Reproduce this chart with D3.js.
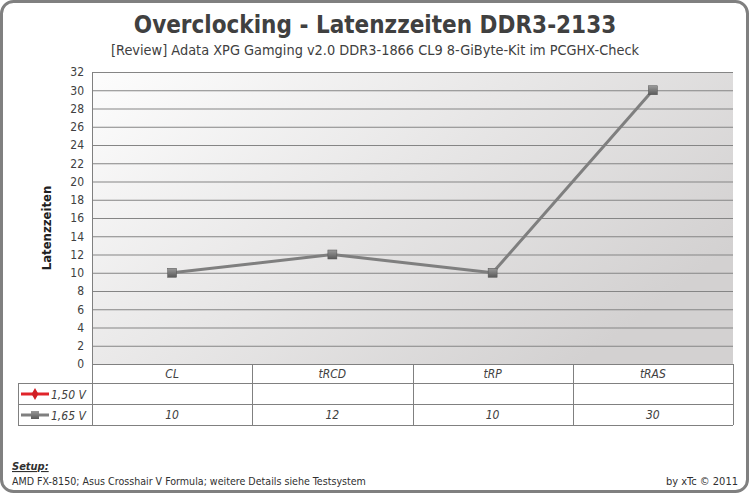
<!DOCTYPE html>
<html><head><meta charset="utf-8">
<script src="https://cdn.jsdelivr.net/npm/d3@7"></script>
<style>body{margin:0;background:#fff}svg{display:block}</style>
</head><body>
<svg id="chart" width="749" height="493"></svg>
<script>
var categories = ["CL", "tRCD", "tRP", "tRAS"];
var seriesNames = ["1,50 V", "1,65 V"];
var seriesColors = ["#e0242a", "#7f7f7f"];
var series150 = [null, null, null, null];
var series165 = [10, 12, 10, 30];
var yTicks = [0,2,4,6,8,10,12,14,16,18,20,22,24,26,28,30,32];

var svg = d3.select("#chart");
var font = "'DejaVu Sans Condensed', 'DejaVu Sans', sans-serif";
var plotL = 92, plotR = 733, plotT = 72, plotB = 364;
var rowH = [19, 21, 21];

var defs = svg.append("defs");
var bg = defs.append("linearGradient").attr("id", "bg")
	.attr("x1", 0).attr("y1", 0).attr("x2", 1).attr("y2", 0.6);
bg.append("stop").attr("offset", "0%").attr("stop-color", "#fdfdfd");
bg.append("stop").attr("offset", "100%").attr("stop-color", "#d3d1d1");
var mk = defs.append("linearGradient").attr("id", "mk").attr("x1", 0).attr("y1", 0).attr("x2", 0).attr("y2", 1);
mk.append("stop").attr("offset", "0%").attr("stop-color", "#9a9a9a");
mk.append("stop").attr("offset", "100%").attr("stop-color", "#5a5a5a");

// outer frame
svg.append("rect").attr("x", 1.5).attr("y", 1.5).attr("width", 746).attr("height", 490)
	.attr("rx", 12).attr("fill", "#fff").attr("stroke", "#808080").attr("stroke-width", 3);

// titles
svg.append("text").attr("x", 375).attr("y", 33).attr("text-anchor", "middle")
	.attr("font-family", font).attr("font-weight", "bold").attr("font-size", 24).attr("fill", "#404040")
	.text("Overclocking - Latenzzeiten DDR3-2133");
svg.append("text").attr("x", 375).attr("y", 55).attr("text-anchor", "middle")
	.attr("font-family", font).attr("font-size", 14.4).attr("fill", "#404040")
	.text("[Review] Adata XPG Gamging v2.0 DDR3-1866 CL9 8-GiByte-Kit im PCGHX-Check");

var x = d3.scaleBand().domain(categories).range([plotL, plotR]);
var y = d3.scaleLinear().domain([0, 32]).range([plotB, plotT]);

// plot background
svg.append("rect").attr("x", plotL).attr("y", plotT).attr("width", plotR - plotL).attr("height", plotB - plotT)
	.attr("fill", "url(#bg)");

// grid
svg.append("g").selectAll("line").data(yTicks).enter().append("line")
	.attr("x1", plotL).attr("x2", plotR).attr("y1", d => y(d) + 0.5).attr("y2", d => y(d) + 0.5)
	.attr("stroke", "#858585").attr("stroke-width", 1);

// y axis
var yAxis = d3.axisLeft(y).tickValues(yTicks).tickSize(0).tickPadding(8);
var gy = svg.append("g").attr("transform", "translate(" + plotL + ",0)").call(yAxis);
gy.select(".domain").remove();
gy.selectAll("text").attr("font-family", font).attr("font-size", 12).attr("fill", "#404040");

svg.append("text").attr("transform", "translate(51," + ((plotT + plotB) / 2 + 10) + ") rotate(-90)")
	.attr("text-anchor", "middle").attr("font-family", font).attr("font-weight", "bold")
	.attr("font-size", 13).attr("fill", "#202020").text("Latenzzeiten");

// data table
var t0 = plotB, t1 = t0 + rowH[0], t2 = t1 + rowH[1], t3 = t2 + rowH[2];
var tbl = svg.append("g").attr("stroke", "#808080").attr("stroke-width", 1).attr("fill", "none");
tbl.append("line").attr("x1", plotL + 0.5).attr("x2", plotL + 0.5).attr("y1", plotT).attr("y2", t3);
[t0, t1, t2, t3].forEach(function(ty, i) {
	tbl.append("line").attr("x1", i === 0 ? plotL : 18).attr("x2", plotR).attr("y1", ty + 0.5).attr("y2", ty + 0.5);
});
tbl.append("line").attr("x1", 18.5).attr("x2", 18.5).attr("y1", t1).attr("y2", t3);
categories.forEach(function(c) {
	var xx = Math.round(x(c) + x.bandwidth()) + 0.5;
	tbl.append("line").attr("x1", xx).attr("x2", xx).attr("y1", t0).attr("y2", t3);
});

svg.append("g").selectAll("text").data(categories).enter().append("text")
	.attr("x", d => x(d) + x.bandwidth() / 2).attr("y", t0 + 14).attr("text-anchor", "middle")
	.attr("font-family", font).attr("font-style", "italic").attr("font-size", 12).attr("fill", "#404040")
	.text(d => d);

svg.append("g").selectAll("text").data(series165).enter().append("text")
	.attr("x", (d, i) => x(categories[i]) + x.bandwidth() / 2).attr("y", t2 + 15).attr("text-anchor", "middle")
	.attr("font-family", font).attr("font-style", "italic").attr("font-size", 12).attr("fill", "#404040")
	.text(d => d);

// legend keys
[t1, t2].forEach(function(ty, i) {
	var cy = ty + rowH[i + 1] / 2 + 0.5;
	svg.append("line").attr("x1", 21).attr("x2", 49).attr("y1", cy).attr("y2", cy)
		.attr("stroke", seriesColors[i]).attr("stroke-width", 3);
	if (i === 0) {
		svg.append("path").attr("d", d3.symbol(d3.symbolDiamond, 40)()).attr("transform", "translate(35," + cy + ")")
			.attr("fill", "#d01e24");
	} else {
		svg.append("rect").attr("x", 31).attr("y", cy - 4).attr("width", 8).attr("height", 8).attr("fill", "url(#mk)");
	}
	svg.append("text").attr("x", 51).attr("y", cy + 4.5).attr("font-family", font).attr("font-style", "italic")
		.attr("font-size", 12).attr("fill", "#404040").text(seriesNames[i]);
});

// line series
var pts = series165.map((v, i) => ({c: categories[i], v: v}));
var line = d3.line().x(d => x(d.c) + x.bandwidth() / 2).y(d => y(d.v));
svg.append("path").datum(pts).attr("d", line).attr("fill", "none")
	.attr("stroke", seriesColors[1]).attr("stroke-width", 3).attr("stroke-linejoin", "round");
svg.append("g").selectAll("rect").data(pts).enter().append("rect")
	.attr("x", d => x(d.c) + x.bandwidth() / 2 - 4.5).attr("y", d => y(d.v) - 4.5)
	.attr("width", 9).attr("height", 9).attr("fill", "url(#mk)").attr("stroke", "#555").attr("stroke-width", 0.5);

// footer
svg.append("text").attr("x", 12).attr("y", 470).attr("font-family", font).attr("font-weight", "bold")
	.attr("font-style", "italic").attr("text-decoration", "underline").attr("font-size", 11).attr("fill", "#303030")
	.text("Setup:");
svg.append("text").attr("x", 12).attr("y", 485).attr("font-family", font)
	.attr("font-size", 10.6).attr("fill", "#303030")
	.text("AMD FX-8150; Asus Crosshair V Formula; weitere Details siehe Testsystem");
svg.append("text").attr("x", 738).attr("y", 485).attr("text-anchor", "end").attr("font-family", font)
	.attr("font-size", 11).attr("fill", "#303030").text("by xTc \u00a9 2011");
</script>
</body></html>
